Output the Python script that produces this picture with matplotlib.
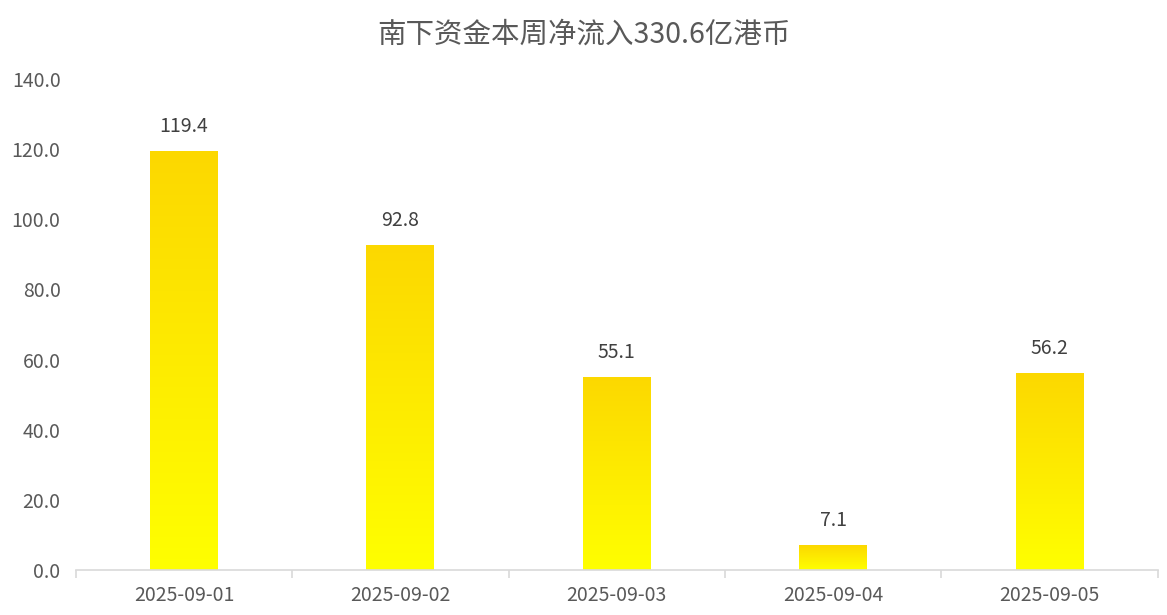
import matplotlib.pyplot as plt
import numpy as np
from matplotlib.colors import LinearSegmentedColormap

plt.rcParams['font.family'] = ['Noto Sans CJK SC', 'DejaVu Sans']

dates = ['2025-09-01', '2025-09-02', '2025-09-03', '2025-09-04', '2025-09-05']
inflow = [119.4, 92.8, 55.1, 7.1, 56.2]
title = '南下资金本周净流入330.6亿港币'
yticks = [0, 20, 40, 60, 80, 100, 120, 140]

text_color = '#595959'
# bottom -> top of each bar
grad = LinearSegmentedColormap.from_list('yel', ['#FFFF00', '#FCD800'])

fig = plt.figure(figsize=(11.67, 6.15), dpi=100)
ax = fig.add_axes([0.065, 0.0732, 0.927, 0.7983])

x = np.arange(len(dates))
bar_w = 0.314
bars = ax.bar(x, inflow, width=bar_w, color='none', edgecolor='none')

# gradient fill inside every bar
g = np.linspace(0, 1, 256).reshape(-1, 1)
for b in bars:
    x0, y0 = b.get_x(), b.get_y()
    w, h = b.get_width(), b.get_height()
    im = ax.imshow(g, cmap=grad, origin='lower', aspect='auto',
                   extent=[x0, x0 + w, y0, y0 + h], zorder=2)
    im.set_clip_path(b)

for xi, v in zip(x, inflow):
    ax.text(xi, v + 4.0, f'{v:.1f}', ha='center', va='bottom',
            fontsize=14, color='#404040')

ax.set_xlim(-0.5, len(dates) - 0.5)
ax.set_ylim(0, 140)
ax.set_yticks(yticks)
ax.set_yticklabels([f'{t:.1f}' for t in yticks])
ax.set_xticks(x)
ax.set_xticklabels(dates)
# tick marks sit between categories
ax.set_xticks(np.arange(-0.5, len(dates)), minor=True)
ax.tick_params(axis='x', which='major', length=0, pad=11,
               labelsize=14, labelcolor=text_color)
ax.tick_params(axis='x', which='minor', length=6, color='#D9D9D9', width=1.2)
ax.tick_params(axis='y', length=0, pad=11, labelsize=14, labelcolor=text_color)

for s in ['top', 'right', 'left']:
    ax.spines[s].set_visible(False)
ax.spines['bottom'].set_color('#D9D9D9')
ax.spines['bottom'].set_linewidth(1.2)

fig.text(0.5, 1 - 35 / 615, title, fontsize=20.5, color=text_color,
         ha='center', va='center')

fig.savefig('out.png', dpi=100)
